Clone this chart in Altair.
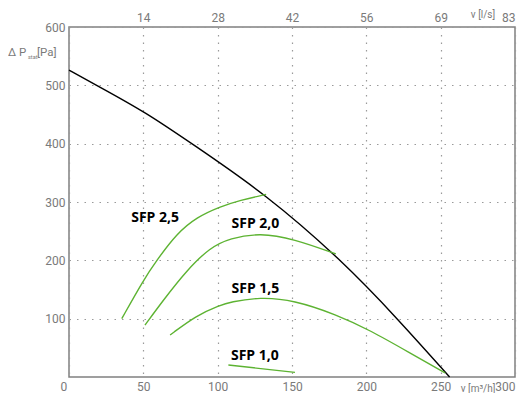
import altair as alt
import pandas as pd

# ---- data ----
fan_x = [0, 18.6, 51.8, 82.6, 132.6, 183.5, 221, 256]
fan_y = [526, 500, 453.5, 400, 313, 200, 100, 0]

sfp25_x = [35.5, 50, 59, 72.5, 85.9, 101.6, 115, 132.6]
sfp25_y = [100, 166, 200, 246, 274, 292, 303, 313]

sfp20_x = [51.1, 63.5, 79.2, 94.9, 108.3, 128.5, 151, 179.5]
sfp20_y = [89, 132, 183, 222, 238, 247, 237, 211]

sfp15_x = [68, 85.9, 101.6, 108.3, 128.5, 151, 180, 202.6, 229.5, 253]
sfp15_y = [72, 106, 123, 128.5, 137, 132, 107, 80, 41, 7]

sfp10_x = [107.2, 152]
sfp10_y = [20.5, 8]

label_text = ["SFP 2,5", "SFP 2,0", "SFP 1,5", "SFP 1,0"]
label_x = [57.9, 125.4, 125.4, 125]
label_y = [272.6, 261.5, 151, 36]

x_ticks = [0, 50, 100, 150, 200, 250, 300]
y_ticks = [100, 200, 300, 400, 500, 600]
top_ticks = [50, 100, 150, 200, 250, 300]
top_labels = ["14", "28", "42", "56", "69", "83"]

rows = []
for name, xs, ys in [("fan", fan_x, fan_y), ("SFP 2,5", sfp25_x, sfp25_y),
                     ("SFP 2,0", sfp20_x, sfp20_y), ("SFP 1,5", sfp15_x, sfp15_y),
                     ("SFP 1,0", sfp10_x, sfp10_y)]:
    for i, (a, b) in enumerate(zip(xs, ys)):
        rows.append({"series": name, "x": a, "y": b, "i": i})
df = pd.DataFrame(rows)
labels_df = pd.DataFrame({"t": label_text, "x": label_x, "y": label_y})

GREY = "#808080"
LBL = "#7a7a7a"
FONT = "Roboto"

xscale = alt.Scale(domain=[0, 300], nice=False, zero=False)
yscale = alt.Scale(domain=[0, 600], nice=False)

grid_kw = dict(grid=True, gridColor="#9a9a9a", gridDash=[1.5, 6], gridWidth=1.2,
               ticks=False, domain=False, labelColor=LBL, labelFont=FONT,
               labelFontSize=12)

top_expr = "[" + ",".join("'%s'" % t for t in top_labels) + "][indexof([" + \
    ",".join(str(v) for v in top_ticks) + "], datum.value)]"

lines = alt.Chart(df).mark_line(strokeWidth=1.4, interpolate="basis").encode(
    x=alt.X("x:Q", scale=xscale,
            axis=alt.Axis(values=x_ticks, title=None, labelPadding=4,
                          labelOffset={"condition": {"test": "datum.value == 0", "value": -9},
                                       "value": 0},
                          **grid_kw)),
    y=alt.Y("y:Q", scale=yscale,
            axis=alt.Axis(values=y_ticks, title=None, labelPadding=4, **grid_kw)),
    detail="series:N",
    order="i:Q",
    color=alt.Color("series:N", legend=None,
                    scale=alt.Scale(domain=["fan", "SFP 2,5", "SFP 2,0", "SFP 1,5", "SFP 1,0"],
                                    range=["#000000", "#5db332", "#5db332", "#5db332", "#5db332"])),
)

top = alt.Chart(pd.DataFrame({"x": top_ticks})).mark_point(opacity=0).encode(
    x=alt.X("x:Q", scale=xscale,
            axis=alt.Axis(orient="top", values=top_ticks, title=None, labelExpr=top_expr,
                          labelPadding=3, ticks=False, domain=False, grid=False,
                          labelColor=LBL, labelFont=FONT, labelFontSize=12)),
)

txt = alt.Chart(labels_df).mark_text(font="Open Sans", fontWeight="bold", fontSize=14,
                                     color="#000000").encode(
    x=alt.X("x:Q", scale=xscale, axis=None),
    y=alt.Y("y:Q", scale=yscale),
    text="t:N",
)

def note(s, x, y, size, align="left"):
    return alt.Chart(pd.DataFrame({"t": [s]})).mark_text(
        font=FONT, fontSize=size, color=LBL, align=align, baseline="middle").encode(
        x=alt.value(x), y=alt.value(y), text="t:N")

titles = [
    note("Δ P", -61, 26, 11.5),
    note("stat", -41, 30, 5.5),
    note("[Pa]", -32, 26, 11.5),
    note("v [m³/h]", 409, 362, 10, "center"),
    note("v [l/s]", 414, -12, 10, "center"),
]

chart = alt.layer(lines, top, txt, *titles).resolve_axis(x="independent").properties(
    width=446, height=350,
    autosize=alt.AutoSizeParams(type="none"),
    padding={"left": 61, "top": 19, "right": 5, "bottom": 16},
).configure_view(stroke=GREY, strokeWidth=1.5)

chart.save("out.html", embed_options={"renderer": "svg", "actions": False})
